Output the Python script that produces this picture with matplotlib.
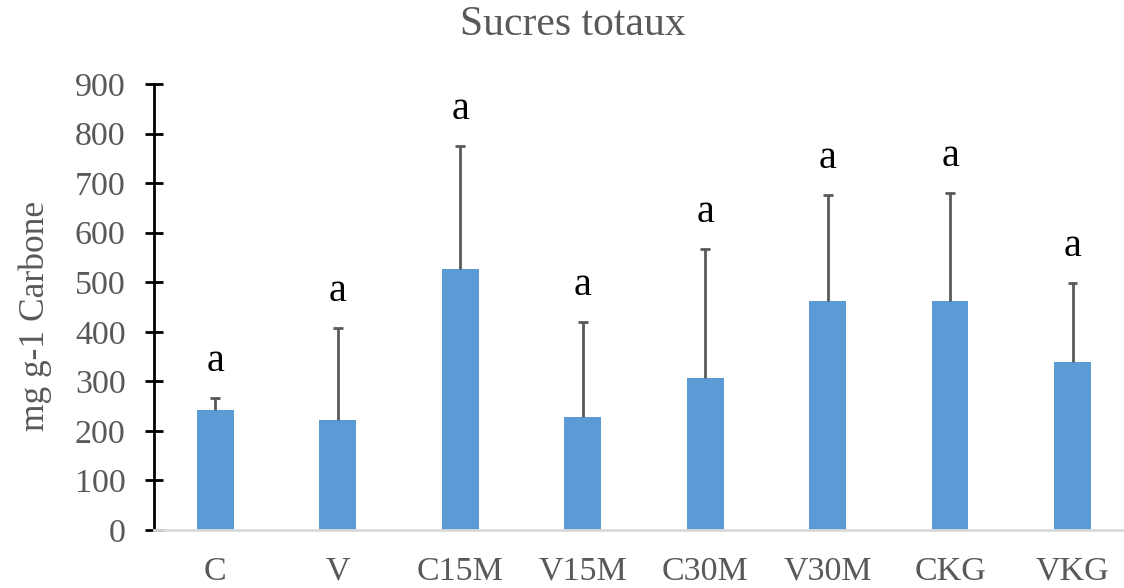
import numpy as np
import matplotlib.pyplot as plt

categories = ['C', 'V', 'C15M', 'V15M', 'C30M', 'V30M', 'CKG', 'VKG']
means = [242, 222, 527, 228, 307, 462, 462, 339]
err_top = [266, 408, 775, 420, 567, 676, 680, 498]
letters = ['a', 'a', 'a', 'a', 'a', 'a', 'a', 'a']

plt.rcParams['font.family'] = ['Liberation Serif', 'DejaVu Serif']
grey = '#595959'

fig = plt.figure(figsize=(11.24, 5.88), dpi=100)
ax = fig.add_axes([0.137, 0.0986, 0.863, 0.7585])

x = np.arange(len(categories))
ax.bar(x, means, width=0.30, color='#5B9BD5', zorder=2)
# only the upper half of the error bar, with a small cap
ax.vlines(x, means, err_top, color=grey, linewidth=2, zorder=3)
ax.hlines(err_top, x - 0.04, x + 0.04, color=grey, linewidth=2, zorder=3)

for xi, top, lab in zip(x, err_top, letters):
    ax.text(xi, top + 36, lab, ha='center', va='bottom', fontsize=29, color='black')

ax.set_xlim(-0.5, 7.42)
ax.set_ylim(0, 900)
ax.set_yticks(range(0, 901, 100))
ax.set_xticks(x)
ax.set_xticklabels(categories)

ax.spines['top'].set_visible(False)
ax.spines['right'].set_visible(False)
ax.spines['left'].set_color('black')
ax.spines['left'].set_linewidth(2)
ax.spines['bottom'].set_color('#d9d9d9')
ax.spines['bottom'].set_linewidth(2)

ax.tick_params(axis='y', direction='inout', length=13, width=2, colors='black',
               labelcolor=grey, labelsize=24.5, pad=14)
ax.tick_params(axis='x', length=0, labelcolor=grey, labelsize=24.5, pad=19)

ax.set_ylabel('mg g-1 Carbone', fontsize=25.5, color=grey, labelpad=16)
ax.yaxis.set_label_coords(-0.105, 0.48)
fig.text(0.51, 0.958, 'Sucres totaux', ha='center', va='center', fontsize=30, color=grey)

fig.savefig('out.png', dpi=100)
